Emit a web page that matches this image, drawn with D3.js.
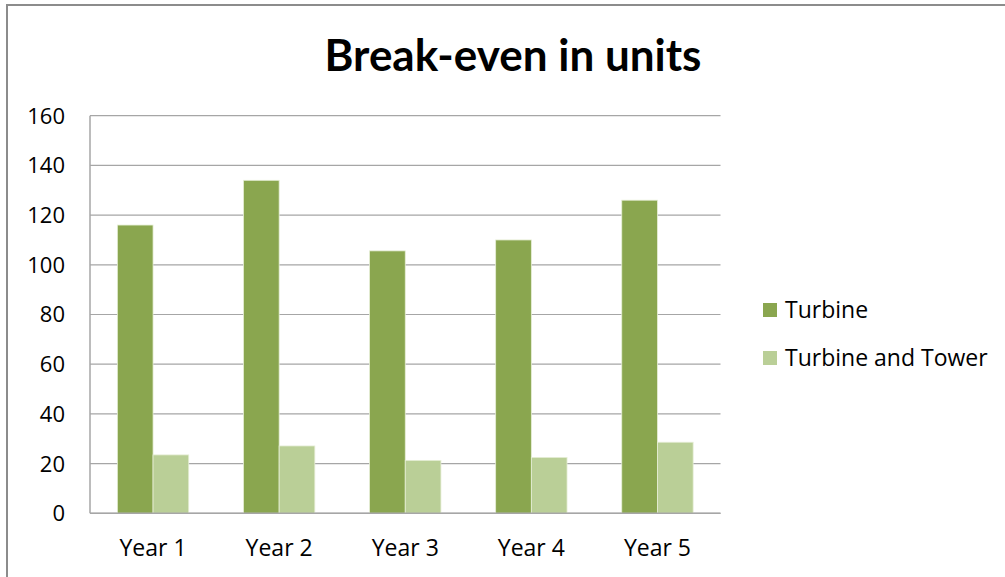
<!DOCTYPE html>
<html>
<head>
<meta charset="utf-8">
<script src="https://cdn.jsdelivr.net/npm/d3@7"></script>
<style>
    body { margin: 0; background: #fff; }
    svg { display: block; font-family: "Open Sans", sans-serif; }
</style>
</head>
<body>
<svg></svg>
<script>
const years = ["Year 1", "Year 2", "Year 3", "Year 4", "Year 5"];
const seriesNames = ["Turbine", "Turbine and Tower"];
const turbine = [116, 134, 105.6, 110, 126];
const turbineTower = [23.5, 27.1, 21.3, 22.5, 28.6];
const yTicks = [0, 20, 40, 60, 80, 100, 120, 140, 160];
const colors = ["#8aa64f", "#bacf97"];

let width = 1005,
    height = 577;

let svg = d3.select("svg")
    .attr("width", width)
    .attr("height", height);

// chart frame
svg.append("rect")
    .attr("x", 7).attr("y", 5)
    .attr("width", width + 10).attr("height", height + 10)
    .attr("fill", "#fff")
    .attr("stroke", "#8c8c8c")
    .attr("stroke-width", 2);

let plot = { left: 90, right: 720.5, top: 115.7, bottom: 513.3 };

let x0 = d3.scaleBand()
    .domain(years)
    .range([plot.left, plot.right])
    .paddingInner(0.434)
    .paddingOuter(0.217);

let x1 = d3.scaleBand()
    .domain(seriesNames)
    .range([0, x0.bandwidth()]);

let y = d3.scaleLinear()
    .domain([0, 160])
    .range([plot.bottom, plot.top]);

// gridlines
svg.append("g")
    .selectAll("line")
    .data(yTicks)
    .enter().append("line")
    .attr("x1", plot.left)
    .attr("x2", plot.right)
    .attr("y1", d => y(d))
    .attr("y2", d => y(d))
    .attr("stroke", "#a6a6a6")
    .attr("stroke-width", 1.2);

// y tick labels
svg.append("g")
    .selectAll("text")
    .data(yTicks)
    .enter().append("text")
    .attr("x", 65)
    .attr("y", d => y(d))
    .attr("dy", "0.36em")
    .attr("text-anchor", "end")
    .attr("font-size", 22)
    .attr("fill", "#000")
    .text(d => d);

// bars
let rows = years.map((yr, i) => ({ year: yr, values: [turbine[i], turbineTower[i]] }));

let groups = svg.append("g")
    .selectAll("g")
    .data(rows)
    .enter().append("g")
    .attr("transform", d => "translate(" + x0(d.year) + ",0)");

groups.selectAll("rect")
    .data(d => d.values.map((v, j) => ({ name: seriesNames[j], value: v, j: j })))
    .enter().append("rect")
    .attr("x", d => x1(d.name))
    .attr("y", d => y(d.value))
    .attr("width", x1.bandwidth())
    .attr("height", d => y(0) - y(d.value))
    .attr("fill", d => colors[d.j])
    .attr("stroke", "#e6eed6")
    .attr("stroke-width", 0.8);

// axis lines
svg.append("line")
    .attr("x1", plot.left).attr("x2", plot.left)
    .attr("y1", plot.top).attr("y2", plot.bottom)
    .attr("stroke", "#a6a6a6").attr("stroke-width", 1.5);
svg.append("line")
    .attr("x1", plot.left).attr("x2", plot.right)
    .attr("y1", plot.bottom).attr("y2", plot.bottom)
    .attr("stroke", "#a6a6a6").attr("stroke-width", 1.5);

// x labels
svg.append("g")
    .selectAll("text")
    .data(years)
    .enter().append("text")
    .attr("x", d => x0(d) + x0.bandwidth() / 2)
    .attr("y", 556)
    .attr("text-anchor", "middle")
    .attr("font-size", 23)
    .attr("fill", "#000")
    .text(d => d);

// title
svg.append("text")
    .attr("x", 513)
    .attr("y", 71)
    .attr("text-anchor", "middle")
    .attr("font-family", "Lato, sans-serif")
    .attr("font-size", 44)
    .attr("font-weight", "bold")
    .attr("fill", "#000")
    .text("Break-even in units");

// legend
let legend = svg.append("g")
    .selectAll("g")
    .data(seriesNames)
    .enter().append("g")
    .attr("transform", (d, i) => "translate(763," + (303 + i * 48) + ")");

legend.append("rect")
    .attr("width", 14)
    .attr("height", 14)
    .attr("fill", (d, i) => colors[i]);

legend.append("text")
    .attr("x", 22)
    .attr("y", 7)
    .attr("dy", "0.36em")
    .attr("font-size", 23)
    .attr("fill", "#000")
    .text(d => d);
</script>
</body>
</html>
